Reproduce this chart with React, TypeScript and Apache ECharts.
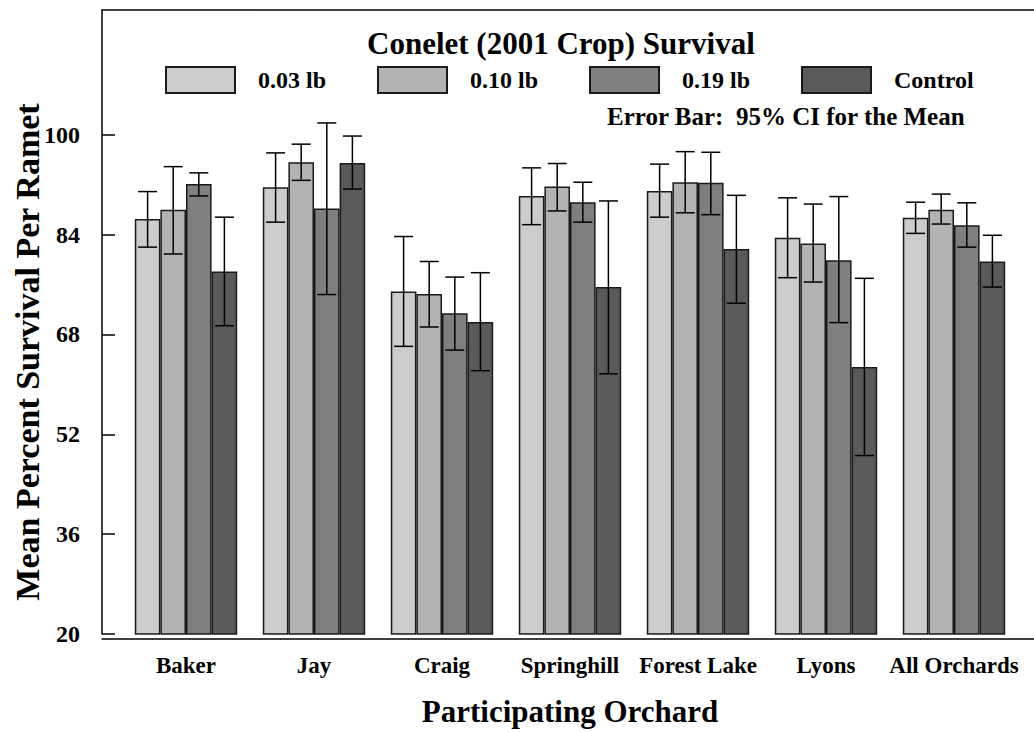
import React, { useEffect, useRef } from "react";
import * as echarts from "echarts";

const categories = ["Baker", "Jay", "Craig", "Springhill", "Forest Lake", "Lyons", "All Orchards"];
const seriesNames = ["0.03 lb", "0.10 lb", "0.19 lb", "Control"];
const seriesColors = ["#cccccc", "#b3b3b3", "#7f7f7f", "#5a5a5a"];

const mean003 = [86.5, 91.6, 74.9, 90.2, 91.0, 83.5, 86.7];
const mean010 = [88.0, 95.6, 74.5, 91.7, 92.4, 82.6, 88.0];
const mean019 = [92.1, 88.2, 71.4, 89.2, 92.3, 79.9, 85.5];
const meanCtl = [78.1, 95.5, 70.0, 75.6, 81.7, 62.8, 79.7];

const lo003 = [82.0, 86.0, 66.1, 85.6, 86.8, 77.1, 84.2];
const hi003 = [90.9, 97.1, 83.7, 94.7, 95.3, 89.9, 89.2];
const lo010 = [80.9, 92.7, 69.2, 87.8, 87.5, 76.4, 85.7];
const hi010 = [94.9, 98.5, 79.7, 95.4, 97.3, 88.9, 90.5];
const lo019 = [90.2, 74.4, 65.5, 86.0, 87.2, 69.9, 82.0];
const hi019 = [93.9, 101.9, 77.2, 92.4, 97.2, 90.1, 89.1];
const loCtl = [69.4, 91.3, 62.2, 61.7, 73.0, 48.6, 75.6];
const hiCtl = [86.8, 99.8, 77.9, 89.4, 90.3, 77.0, 83.9];

const yTicks = [20, 36, 52, 68, 84, 100];

const means = [mean003, mean010, mean019, meanCtl];
const lows = [lo003, lo010, lo019, loCtl];
const highs = [hi003, hi010, hi019, hiCtl];

const FONT = "Liberation Serif";
const CAT_GAP = 0.2;

export default function App() {
  const ref = useRef<HTMLDivElement>(null);
  useEffect(() => {
    if (!ref.current) return;
    const chart = echarts.init(ref.current, null, { renderer: "svg" });
    const nSeries = seriesNames.length;

    const barSeries = seriesNames.map((name, k) => ({
      name,
      type: "bar",
      xAxisIndex: 0,
      yAxisIndex: 0,
      data: means[k],
      barGap: "0%",
      barCategoryGap: `${CAT_GAP * 100}%`,
      itemStyle: { color: seriesColors[k], borderColor: "#1a1a1a", borderWidth: 1.5 },
      z: 2,
    }));

    const errSeries = seriesNames.map((name, k) => ({
      name: name + " CI",
      type: "custom",
      xAxisIndex: 0,
      yAxisIndex: 0,
      data: categories.map((_, i) => [i, lows[k][i], highs[k][i]]),
      encode: { x: 0, y: [1, 2] },
      z: 5,
      renderItem: (params: any, api: any) => {
        const idx = api.value(0);
        const lo = api.coord([idx, api.value(1)]);
        const hi = api.coord([idx, api.value(2)]);
        const band = api.size([1, 0])[0];
        const bw = (band * (1 - CAT_GAP)) / nSeries;
        const cx = lo[0] + (k - (nSeries - 1) / 2) * bw;
        const half = 9.5;
        const style = { stroke: "#000", lineWidth: 1.5 };
        return {
          type: "group",
          children: [
            { type: "line", shape: { x1: cx, y1: hi[1], x2: cx, y2: lo[1] }, style },
            { type: "line", shape: { x1: cx - half, y1: hi[1], x2: cx + half, y2: hi[1] }, style },
            { type: "line", shape: { x1: cx - half, y1: lo[1], x2: cx + half, y2: lo[1] }, style },
          ],
        };
      },
    }));

    const legendLefts = [165, 377, 589, 801];
    const legends = seriesNames.map((name, k) => ({
      data: [{ name, icon: "rect" }],
      left: legendLefts[k],
      top: 66,
      padding: 0,
      itemWidth: 69,
      itemHeight: 26,
      textStyle: {
        fontFamily: FONT,
        fontWeight: "bold",
        fontSize: 24,
        color: "#000",
        padding: [12, 0, 0, 18],
      },
    }));

    const option: any = {
      animation: false,
      backgroundColor: "#fff",
      title: [
        {
          text: "Conelet (2001 Crop) Survival",
          left: 367,
          top: 28,
          padding: 0,
          textStyle: { fontFamily: FONT, fontWeight: "bold", fontSize: 31, color: "#000" },
        },
        {
          text: "Error Bar:  95% CI for the Mean",
          left: 607,
          top: 104,
          padding: 0,
          textStyle: { fontFamily: FONT, fontWeight: "bold", fontSize: 25, color: "#000" },
        },
      ],
      legend: legends,
      grid: [
        { left: 122, right: 16, top: 10, bottom: 93 },
        { left: 102, right: 0, top: 10, bottom: 93 },
      ],
      xAxis: [
        {
          type: "category",
          gridIndex: 0,
          data: categories,
          axisLine: { show: false },
          axisTick: { show: false },
          axisLabel: {
            margin: 20,
            fontFamily: FONT,
            fontWeight: "bold",
            fontSize: 23,
            color: "#000",
            interval: 0,
          },
          name: "Participating Orchard",
          nameLocation: "middle",
          nameGap: 62,
          nameTextStyle: { fontFamily: FONT, fontWeight: "bold", fontSize: 31, color: "#000" },
        },
        {
          type: "value",
          gridIndex: 1,
          min: 0,
          max: 1,
          position: "bottom",
          axisLine: { show: true, lineStyle: { color: "#000", width: 1.5 } },
          axisTick: { show: false },
          axisLabel: { show: false },
          splitLine: { show: false },
        },
        {
          type: "value",
          gridIndex: 1,
          min: 0,
          max: 1,
          position: "top",
          axisLine: { show: true, lineStyle: { color: "#000", width: 1.5 } },
          axisTick: { show: false },
          axisLabel: { show: false },
          splitLine: { show: false },
        },
      ],
      yAxis: [
        {
          type: "value",
          gridIndex: 0,
          min: 20,
          max: 120,
          interval: 16,
          offset: 20,
          axisLine: { show: true, lineStyle: { color: "#000", width: 1.5 } },
          axisTick: {
            show: true,
            inside: true,
            length: 13,
            customValues: yTicks,
            lineStyle: { color: "#000", width: 1.5 },
          },
          axisLabel: {
            customValues: yTicks,
            margin: 22,
            fontFamily: FONT,
            fontWeight: "bold",
            fontSize: 24,
            color: "#000",
            padding: [6, 0, 0, 0],
          },
          splitLine: { show: false },
        },
        { type: "value", gridIndex: 1, show: false, min: 0, max: 1 },
      ],
      graphic: [
        {
          type: "text",
          x: 27,
          y: 352,
          rotation: Math.PI / 2,
          style: {
            text: "Mean Percent Survival Per Ramet",
            font: `bold 34px "${FONT}"`,
            fill: "#000",
            textAlign: "center",
            textVerticalAlign: "middle",
          },
        },
      ],
      series: [...barSeries, ...errSeries],
    };
    chart.setOption(option);
    return () => chart.dispose();
  }, []);

  return (
    <div
      ref={ref}
      style={{ position: "fixed", left: 0, top: 0, width: 1034, height: 732, background: "#fff" }}
    />
  );
}
